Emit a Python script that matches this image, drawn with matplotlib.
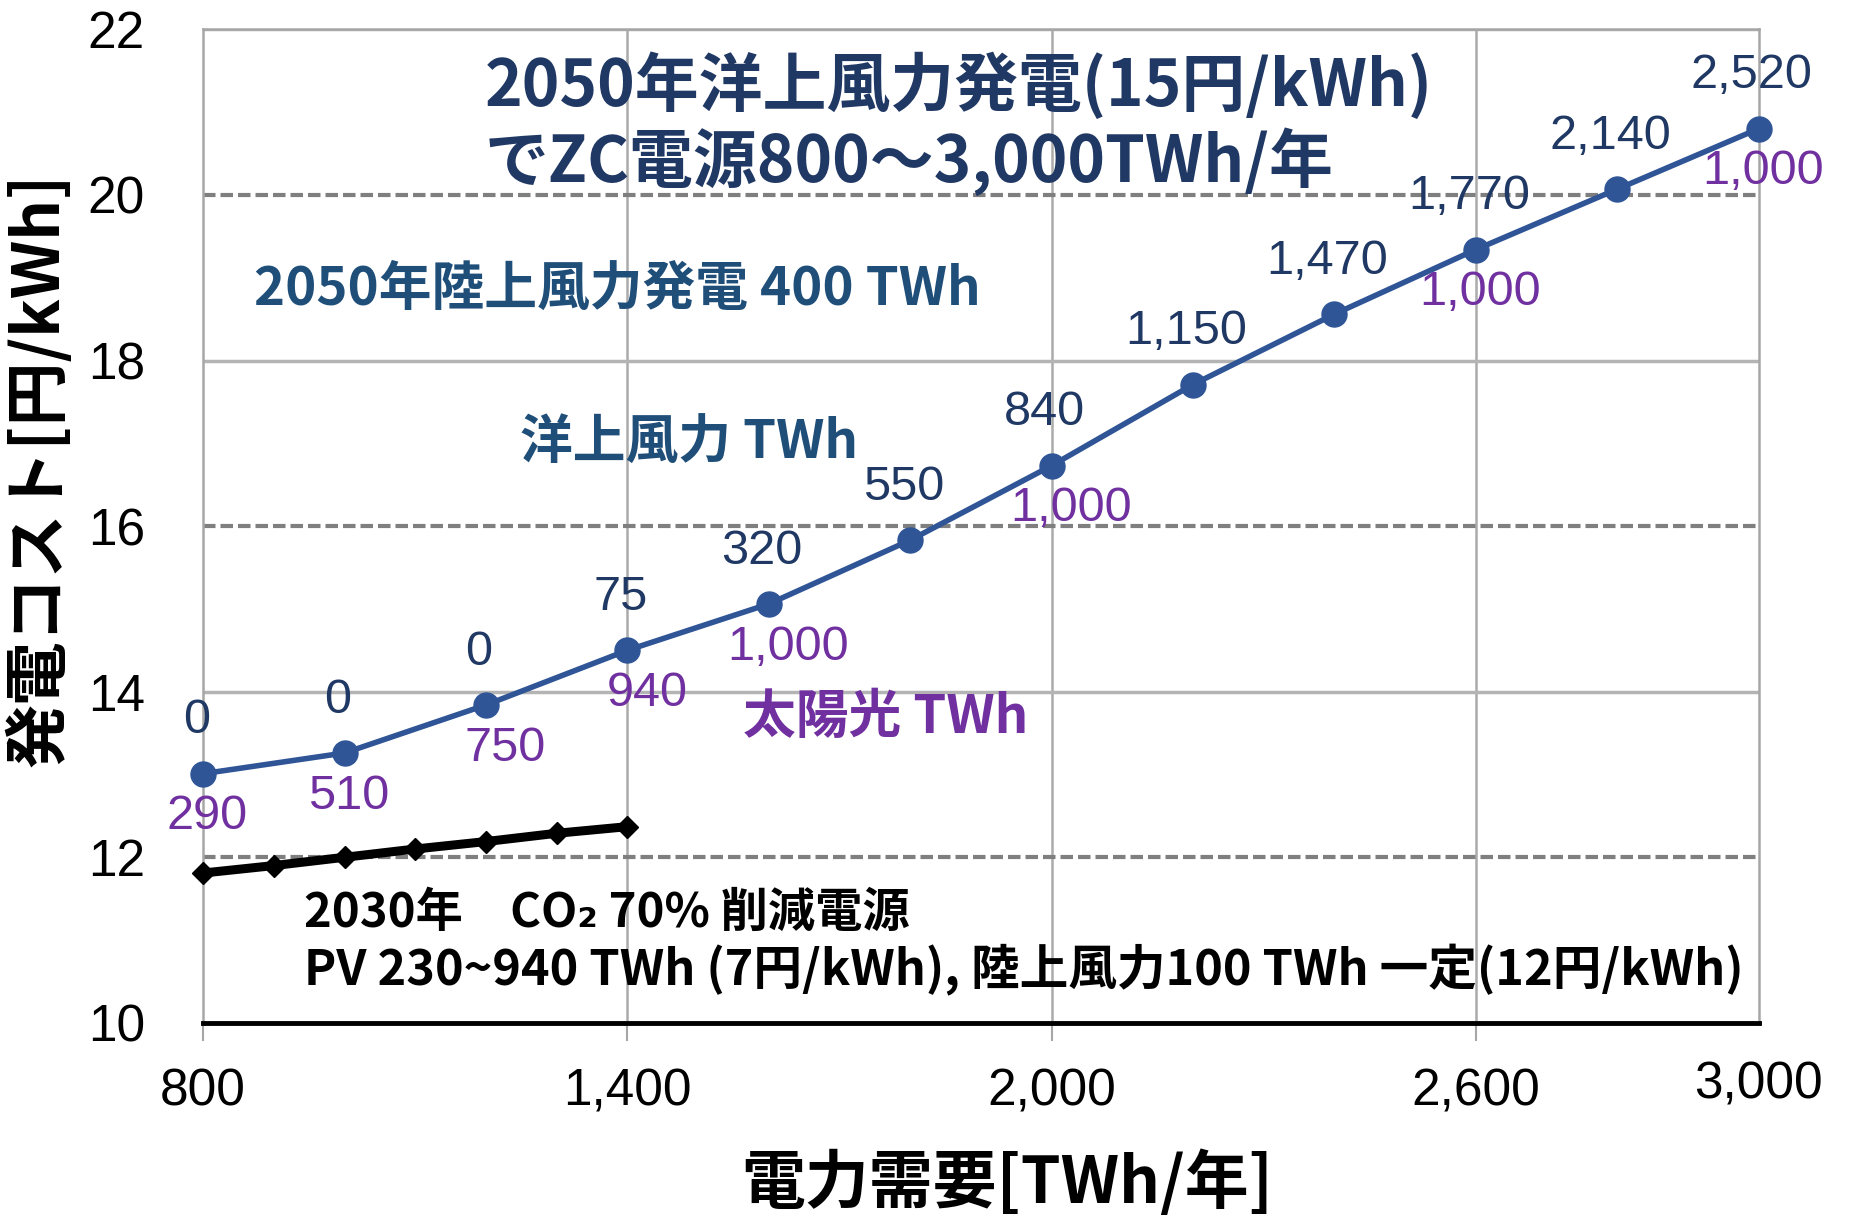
import matplotlib
matplotlib.use("Agg")
import matplotlib.pyplot as plt

plt.rcParams['font.family'] = ['Liberation Sans', 'Noto Sans CJK JP', 'DejaVu Sans']

# 2050: demand vs. generation cost with offshore wind + solar
demand_2050 = [800, 1000, 1200, 1400, 1600, 1800, 2000, 2200, 2400, 2600, 2800, 3000]
cost_2050 = [13.01, 13.26, 13.84, 14.5, 15.06, 15.83, 16.73, 17.71, 18.56, 19.34, 20.07, 20.8]
offshore_twh = ["0", "0", "0", "75", "320", "550", "840", "1,150", "1,470", "1,770", "2,140", "2,520"]
solar_twh = ["290", "510", "750", "940", "1,000", "", "1,000", "", "", "1,000", "", "1,000"]

# 2030: CO2 -70% mix
demand_2030 = [800, 900, 1000, 1100, 1200, 1300, 1400]
cost_2030 = [11.81, 11.9, 12.0, 12.1, 12.19, 12.29, 12.37]

x_ticks = [800, 1400, 2000, 2600, 3000]
x_tick_labels = ["800", "1,400", "2,000", "2,600", "3,000"]
y_ticks = [10, 12, 14, 16, 18, 20, 22]
y_dashed = [12, 16, 20]
y_solid = [14, 18, 22]

NAVY = "#203864"
STEEL = "#1F4E79"
LINE_BLUE = "#2F5597"
PURPLE = "#7030A0"
JP = ['Noto Sans CJK JP', 'DejaVu Sans']

fig = plt.figure(figsize=(18.55, 12.25), dpi=100)
ax = fig.add_axes([0.1095, 0.165, 0.8385, 0.811])
ax.set_xlim(800, 3000)
ax.set_ylim(10, 22)

# grid
for v in x_ticks[1:-1]:
    ax.axvline(v, color="#ABABAB", lw=1.8, zorder=1)
for v in y_solid:
    ax.axhline(v, color="#B4B4B4", lw=2.5, zorder=1)
for v in y_dashed:
    ax.axhline(v, color="#7F7F7F", lw=3.0, ls=(0, (3, 1.2)), zorder=1)

for side in ("left", "right", "top"):
    ax.spines[side].set_color("#A6A6A6")
    ax.spines[side].set_linewidth(1.8)
ax.spines["bottom"].set_color("black")
ax.spines["bottom"].set_linewidth(3.5)

ax.set_xticks(x_ticks)
ax.set_xticklabels(x_tick_labels)
ax.set_yticks(y_ticks)
ax.tick_params(axis="x", length=13, width=1.5, color="#A6A6A6", pad=19, labelsize=37)
ax.tick_params(axis="y", length=0, pad=42, labelsize=37)
last = ax.xaxis.get_major_ticks()[-1]
last.tick1line.set_visible(False)
last.set_pad(14)

# lines
ax.plot(demand_2030, cost_2030, color="black", lw=6.5, marker="D", ms=11,
        markerfacecolor="black", zorder=3, clip_on=False)
ax.plot(demand_2050, cost_2050, color=LINE_BLUE, lw=4, marker="o", ms=18,
        zorder=4, clip_on=False)

# data labels
for x, y, t in zip(demand_2050, cost_2050, offshore_twh):
    ax.annotate(t, (x, y), xytext=(-5, 38), textcoords="offset points",
                ha="center", va="center", fontsize=35, color=NAVY, zorder=5)
for x, y, t in zip(demand_2050, cost_2050, solar_twh):
    if t:
        dx = 14 if 1100 < x < 2500 else 3
        ax.annotate(t, (x, y), xytext=(dx, -31), textcoords="offset points",
                    ha="center", va="center", fontsize=35, color=PURPLE, zorder=5)

# annotations
ax.text(1198, 21.31, "2050年洋上風力発電(15円/kWh)", family=JP, fontsize=46,
        fontweight="bold", color=NAVY, ha="left", va="center")
ax.text(1198, 20.4, "でZC電源800～3,000TWh/年", family=JP, fontsize=46,
        fontweight="bold", color=NAVY, ha="left", va="center")
ax.text(872, 18.86, "2050年陸上風力発電 400 TWh", family=JP, fontsize=38,
        fontweight="bold", color=STEEL, ha="left", va="center")
ax.text(1248, 17.0, "洋上風力 TWh", family=JP, fontsize=38,
        fontweight="bold", color=STEEL, ha="left", va="center")
ax.text(1563, 13.69, "太陽光 TWh", family=JP, fontsize=38,
        fontweight="bold", color=PURPLE, ha="left", va="center")
ax.text(942, 11.33, "2030年　CO₂ 70% 削減電源", family=JP, fontsize=34,
        fontweight="bold", color="black", ha="left", va="center")
ax.text(942, 10.64, "PV 230~940 TWh (7円/kWh), 陸上風力100 TWh 一定(12円/kWh)",
        family=JP, fontsize=35, fontweight="bold", color="black", ha="left", va="center")

ax.set_ylabel("発電コスト[円/kWh]", family=JP, fontsize=46, fontweight="bold")
ax.set_xlabel("電力需要[TWh/年]", family=JP, fontsize=46, fontweight="bold")
ax.yaxis.set_label_coords(-0.084, 0.557)
ax.xaxis.set_label_coords(0.517, -0.128)

fig.savefig("out.png", dpi=100)
